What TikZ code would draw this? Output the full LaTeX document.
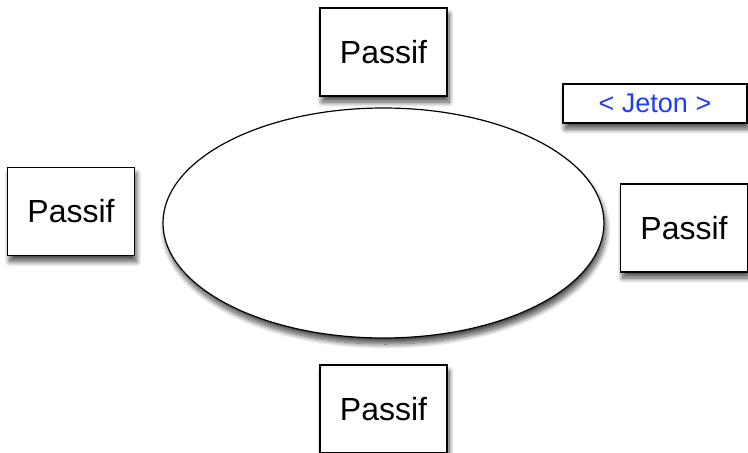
\documentclass[tikz,border=0pt]{standalone}
\usepackage{fontspec}
\setmainfont{Liberation Sans}
\usepackage{tikz}
\usetikzlibrary{shapes.geometric,shadows.blur}
\definecolor{jetonblue}{RGB}{30,60,250}

\begin{document}
\begin{tikzpicture}[x=1pt,y=-1pt,
  soft/.style={blur shadow={shadow xshift=2pt,shadow yshift=-6pt,shadow blur radius=5pt,shadow blur steps=12,shadow opacity=70}},
  passif/.style={draw,rectangle,fill=white,line width=1.5pt,minimum width=127pt,minimum height=88pt,inner sep=0pt,
    font=\fontsize{32}{38}\selectfont,soft},
  jeton/.style={draw,rectangle,fill=white,line width=1.5pt,minimum width=184pt,minimum height=39pt,inner sep=0pt,
    text=jetonblue,font=\fontsize{27}{32}\selectfont,soft}]
\useasboundingbox (0,0) rectangle (748,453);

% Ring
\node[draw,ellipse,fill=white,line width=1.2pt,minimum width=441pt,minimum height=230pt,inner sep=0pt,soft] (ring) at (383.5,223) {};

% Stations around the ring
\node[passif] (top) at (383.5,52) {Passif};
\node[passif] (left) at (71,211.5) {Passif};
\node[passif] (right) at (684,228) {Passif};
\node[passif] (bottom) at (383.5,409) {Passif};

% Token
\node[jeton] (token) at (655,103.5) {< Jeton >};
\end{tikzpicture}
\end{document}
